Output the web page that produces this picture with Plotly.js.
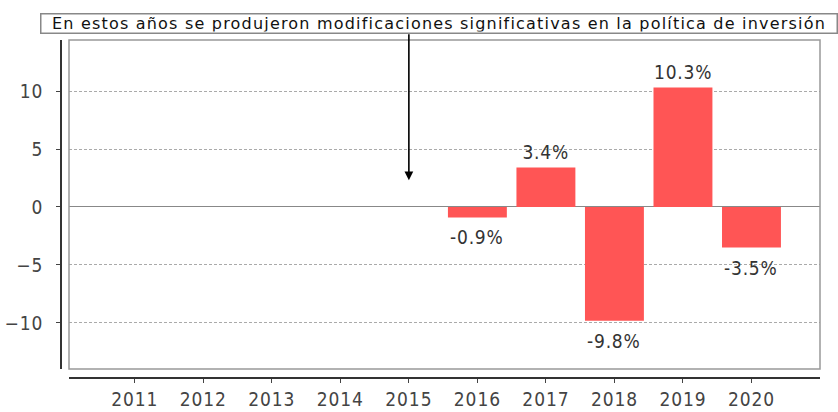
<!DOCTYPE html>
<html>
<head>
<meta charset="utf-8">
<script src="https://cdn.plot.ly/plotly-3.0.1.min.js"></script>
<style>
html, body { margin: 0; padding: 0; background: #fff; }
#chart { width: 838px; height: 412px; }
.annotation text { letter-spacing: 0.8px; }
.annotation[data-index="6"] text { letter-spacing: 1.2px; }
.xtick text, .ytick text { letter-spacing: 0.9px; }
</style>
</head>
<body>
<div id="chart"></div>
<script>
const years = [2011, 2012, 2013, 2014, 2015, 2016, 2017, 2018, 2019, 2020];
const yearLabels = ["2011", "2012", "2013", "2014", "2015", "2016", "2017", "2018", "2019", "2020"];
const values = [null, null, null, null, null, -0.9, 3.4, -9.8, 10.3, -3.5];
const valueLabels = ["", "", "", "", "", "-0.9%", "3.4%", "-9.8%", "10.3%", "-3.5%"];
const noteText = "En estos años se produjeron modificaciones significativas en la política de inversión";
const noteYear = 2015;
const noteArrowTip = 2.3;
const yTicks = [-10, -5, 0, 5, 10];

const font = "DejaVu Sans Condensed, DejaVu Sans, sans-serif";
const noteFont = "DejaVu Sans, sans-serif";

const trace = {
  type: "bar",
  x: years,
  y: values,
  width: 0.86,
  marker: { color: "#ff5555", line: { width: 0 } },
  hoverinfo: "skip",
  cliponaxis: false
};

const annotations = [];
years.forEach((yr, i) => {
  const v = values[i];
  if (v === null) return;
  annotations.push({
    x: yr, y: v, xref: "x", yref: "y",
    text: valueLabels[i],
    showarrow: false,
    xanchor: "center",
    yanchor: v >= 0 ? "bottom" : "top",
    yshift: v >= 0 ? 3 : -7,
    font: { family: font, size: 19, color: "#333" }
  });
});

annotations.push({
  x: noteYear, y: noteArrowTip, xref: "x", yref: "y",
  text: " ",
  showarrow: true,
  ax: 0, ay: -150,
  arrowhead: 2, arrowsize: 1.1, arrowwidth: 1.6, arrowcolor: "#000",
  font: { size: 4 }
});

annotations.push({
  x: (438.5 - 61) / 759, y: 1 + (40 - 23) / 338,
  xref: "paper", yref: "paper",
  xanchor: "center", yanchor: "middle",
  text: noteText,
  showarrow: false,
  bgcolor: "#fff",
  bordercolor: "#888",
  borderwidth: 1.5,
  borderpad: 1,
  width: 793,
  height: 16,
  align: "center",
  font: { family: noteFont, size: 16, color: "#111" }
});

const layout = {
  width: 838, height: 412,
  margin: { l: 61, r: 18, t: 40, b: 34 },
  paper_bgcolor: "#fff",
  plot_bgcolor: "#fff",
  showlegend: false,
  xaxis: {
    type: "linear",
    domain: [8 / 759, 1],
    anchor: "free",
    position: 0,
    range: [2010.04, 2021],
    tickvals: years,
    ticktext: yearLabels,
    ticks: "outside",
    ticklen: 4,
    tickwidth: 1,
    tickcolor: "#444",
    showline: true,
    linecolor: "#333",
    linewidth: 2,
    showgrid: false,
    zeroline: false,
    tickfont: { family: font, size: 19, color: "#444" },
    ticklabelstandoff: 0
  },
  yaxis: {
    domain: [9 / 338, 1],
    anchor: "free",
    position: 0,
    range: [-13.97, 14.4],
    tickvals: yTicks,
    ticks: "outside",
    ticklen: 4,
    tickwidth: 1,
    tickcolor: "#444",
    showline: true,
    linecolor: "#333",
    linewidth: 2,
    showgrid: true,
    gridcolor: "#aaa",
    gridwidth: 1,
    griddash: "3px,2px",
    zeroline: true,
    zerolinecolor: "#888",
    zerolinewidth: 1,
    tickfont: { family: font, size: 19, color: "#444" },
    ticklabelstandoff: 9
  },
  shapes: [{
    type: "rect", xref: "paper", yref: "paper",
    x0: 8 / 759, x1: 1, y0: 9 / 338, y1: 1,
    line: { color: "#999", width: 1.5 },
    fillcolor: "rgba(0,0,0,0)",
    layer: "above"
  }],
  annotations: annotations
};

Plotly.newPlot("chart", [trace], layout, { displayModeBar: false, staticPlot: true });
</script>
</body>
</html>
